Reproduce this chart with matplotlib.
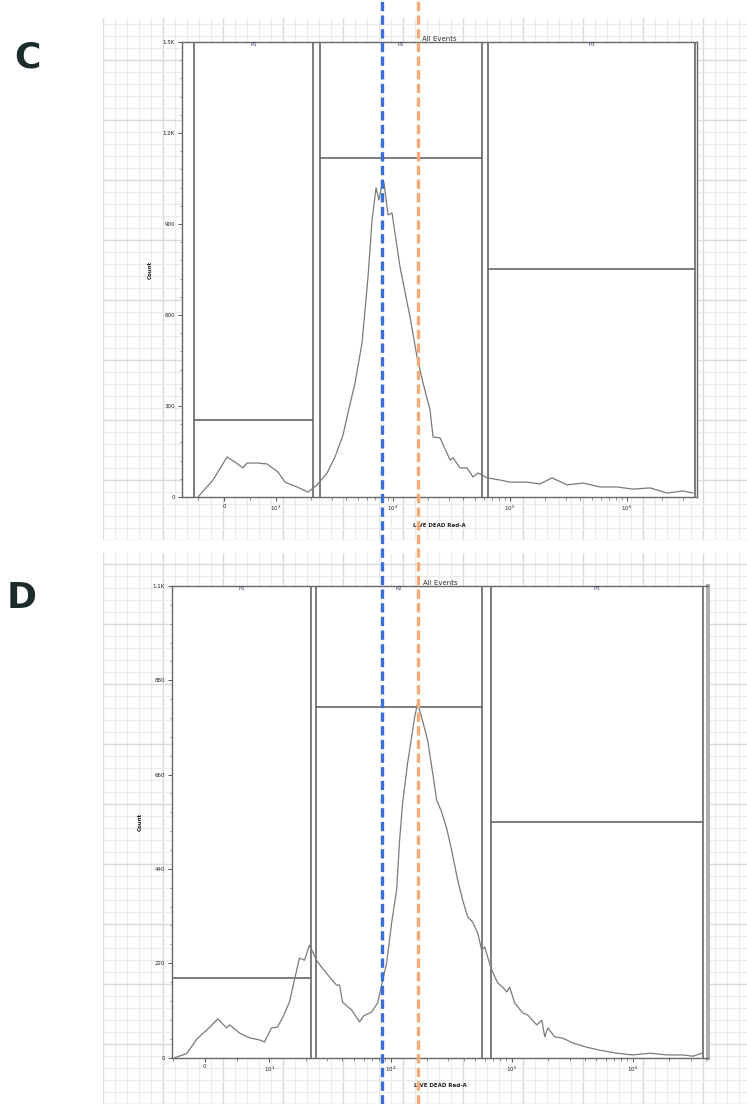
import numpy as np
import matplotlib
matplotlib.use("Agg")
import matplotlib.pyplot as plt
from matplotlib.lines import Line2D
from matplotlib.ticker import FixedLocator, MultipleLocator

# ---- data ----------------------------------------------------------------
# panel C histogram (LIVE/DEAD Red-A intensity, count)
c_x = [-500, -212, 58, 212, 365, 442, 635, 827, 1040, 1194, 1512, 1878, 2240,
       2728, 3192, 3738, 4045, 4733, 5433, 6112, 6617, 7161, 7590, 8054, 8375,
       9060, 9800, 11480, 13970, 16030, 18040, 20700, 21980, 25230, 30710,
       32580, 37390, 42890, 48260, 53260, 63570, 82180, 100000, 139700,
       180400, 228400, 306900, 420600, 587800, 821600, 1.126e6, 1.573e6,
       2.199e6, 3.011e6, 3.665e6]
c_count = [0, 56, 132, 115, 96, 112, 112, 109, 82, 49, 33, 16, 40,
           79, 132, 204, 264, 376, 508, 725, 913, 1019, 979, 1035, 1035,
           930, 936, 758, 593, 462, 376, 287, 198, 195, 122,
           129, 96, 96, 66, 79, 63, 56, 49, 49,
           43, 63, 40, 46, 33, 33, 26, 30,
           13, 20, 13]

# panel D histogram
d_x = [-462, -338, -277, -123, 77, 200, 338, 385, 538, 692, 846, 923, 1039,
       1164, 1280, 1462, 1609, 1770, 1947, 2141, 2445, 2690, 3134, 3580, 3793,
       4012, 4763, 5546, 5986, 6970, 7817, 8433, 9275, 10200, 11210, 11870,
       12570, 13820, 14920, 15790, 16710, 18030, 20210, 22240, 23990, 26380,
       29010, 31910, 35790, 39380, 43290, 47610, 52370, 56480, 59840, 63400,
       68380, 76620, 84290, 90930, 96250, 105800, 123300, 135600, 161000,
       177100, 187500, 198600, 226700, 263800, 319300, 416800, 533800,
       737900, 1.0e6, 1.381e6, 1.909e6, 2.589e6, 3.131e6, 3.719e6]
d_count = [0, 6, 10, 43, 71, 90, 69, 76, 57, 46, 41, 36, 69,
           71, 92, 129, 181, 232, 227, 262, 227, 211, 188, 169, 169,
           129, 111, 83, 97, 106, 127, 169, 220, 314, 391, 507,
           594, 687, 748, 794, 826, 794, 741, 664, 601, 573,
           535, 484, 414, 367, 328, 316, 290, 251, 258, 234,
           204, 174, 164, 153, 164, 127, 104, 99, 76,
           87, 48, 69, 48, 45, 34, 24, 17,
           10, 6, 10, 6, 6, 3, 10]

# gates: (left, right, height)
gate_names = ["P1", "P2", "P3"]
c_gates = [(-577, 2070, 255), (2375, 57500, 1118), (64900, 3.8e6, 752)]
d_gates = [(-508, 2223, 185), (2445, 56480, 818), (67000, 3.8e6, 549)]

c_yticks = [0, 300, 600, 900, 1200, 1500]
c_ylabels = ["0", "300", "600", "900", "1.2K", "1.5K"]
d_yticks = [0, 220, 440, 660, 880, 1100]
d_ylabels = ["0", "220", "440", "660", "880", "1.1K"]

x_ticks = [0, 1e3, 1e4, 1e5, 1e6]
x_ticklabels = ["0", "10$^3$", "10$^4$", "10$^5$", "10$^6$"]

# reference markers (intensity, read on panel C)
marker_blue = 8.0e3
marker_orange = 1.63e4

W, H = 747, 1104
fig = plt.figure(figsize=(W / 100, H / 100), dpi=100)
fig.patch.set_facecolor("white")


def px_box(left, top, right, bottom):
    return [left / W, 1 - bottom / H, (right - left) / W, (bottom - top) / H]


def grid_bg(left, top, right, bottom):
    bg = fig.add_axes(px_box(left, top, right, bottom), zorder=0)
    bg.set_xlim(0, right - left)
    bg.set_ylim(0, bottom - top)
    bg.xaxis.set_minor_locator(MultipleLocator(12))
    bg.yaxis.set_minor_locator(MultipleLocator(12))
    bg.xaxis.set_major_locator(MultipleLocator(60))
    bg.yaxis.set_major_locator(MultipleLocator(60))
    bg.grid(True, which="minor", color="#ebebeb", lw=0.8)
    bg.grid(True, which="major", color="#dadada", lw=1.0)
    bg.tick_params(which="both", length=0, labelbottom=False, labelleft=False)
    for s in bg.spines.values():
        s.set_visible(False)
    return bg


def hist_panel(box, xlim, linscale, xs, counts, gates, yticks, ylabels):
    ax = fig.add_axes(box, zorder=2)
    ax.set_facecolor("white")
    ax.set_xscale("symlog", linthresh=1000, linscale=linscale)
    ax.set_xlim(*xlim)
    ax.set_ylim(0, yticks[-1])

    ax.plot(xs, counts, color="#7a7a7a", lw=0.9, zorder=3)

    for name, (g0, g1, gh) in zip(gate_names, gates):
        ax.vlines([g0, g1], 0, yticks[-1], color="#5a5a5a", lw=1.1, zorder=2)
        ax.hlines(gh, g0, g1, color="#5a5a5a", lw=1.1, zorder=2)
        p0 = ax.transData.transform((g0, 0))[0]
        p1 = ax.transData.transform((g1, 0))[0]
        xc = ax.transData.inverted().transform(((p0 + p1) / 2, 0))[0]
        ax.text(xc, yticks[-1], name, ha="center", va="top", fontsize=4,
                color="#3a3a60")

    ax.set_yticks(yticks)
    ax.set_yticklabels(ylabels)
    ax.yaxis.set_minor_locator(MultipleLocator(yticks[1] / 5))
    ax.set_xticks(x_ticks)
    ax.set_xticklabels(x_ticklabels)
    minors = [-500, 500] + [k * 10 ** n for n in range(3, 7) for k in range(2, 10)]
    ax.xaxis.set_minor_locator(FixedLocator(minors))
    ax.tick_params(which="major", length=3, width=0.7, labelsize=4,
                   colors="#555", labelcolor="#222", pad=2)
    ax.tick_params(which="minor", length=1.8, width=0.5, colors="#666")

    for s in ax.spines.values():
        s.set_color("#666")
        s.set_linewidth(1.0)

    ax.set_title("All Events", fontsize=5, color="#333", pad=1)
    ax.set_xlabel("LIVE DEAD Red-A", fontsize=4, color="#222",
                  fontweight="bold", labelpad=7)
    ax.set_ylabel("Count", fontsize=4, color="#222", fontweight="bold",
                  labelpad=7)
    return ax


grid_bg(103, 18, 747, 540)
grid_bg(103, 553, 747, 1104)

ax_c = hist_panel(px_box(182, 42, 697, 497), (-808, 3.96e6), 0.40,
                  c_x, c_count, c_gates, c_yticks, c_ylabels)
ax_d = hist_panel(px_box(172, 586, 708, 1057.5), (-508, 4.17e6), 0.48,
                  d_x, d_count, d_gates, d_yticks, d_ylabels)
ax_d.spines["right"].set_color("#b0b0b0")
ax_d.spines["right"].set_linewidth(3)

fig.text(27 / W, 1 - 57 / H, "C", fontsize=26, fontweight="bold",
         color="#1c2b2b", ha="center", va="center")
fig.text(22 / W, 1 - 598 / H, "D", fontsize=26, fontweight="bold",
         color="#1c2b2b", ha="center", va="center")

# dashed reference lines across both panels
to_fig = fig.transFigure.inverted()
for val, col in [(marker_blue, "#3a6fd6"), (marker_orange, "#f6ab76")]:
    xf = to_fig.transform(ax_c.transData.transform((val, 0)))[0]
    fig.add_artist(Line2D([xf, xf], [0, 1], transform=fig.transFigure,
                          color=col, lw=2.4, ls=(0, (2.8, 1.3)), zorder=10))

fig.savefig("out.png", dpi=100)
plt.close(fig)
